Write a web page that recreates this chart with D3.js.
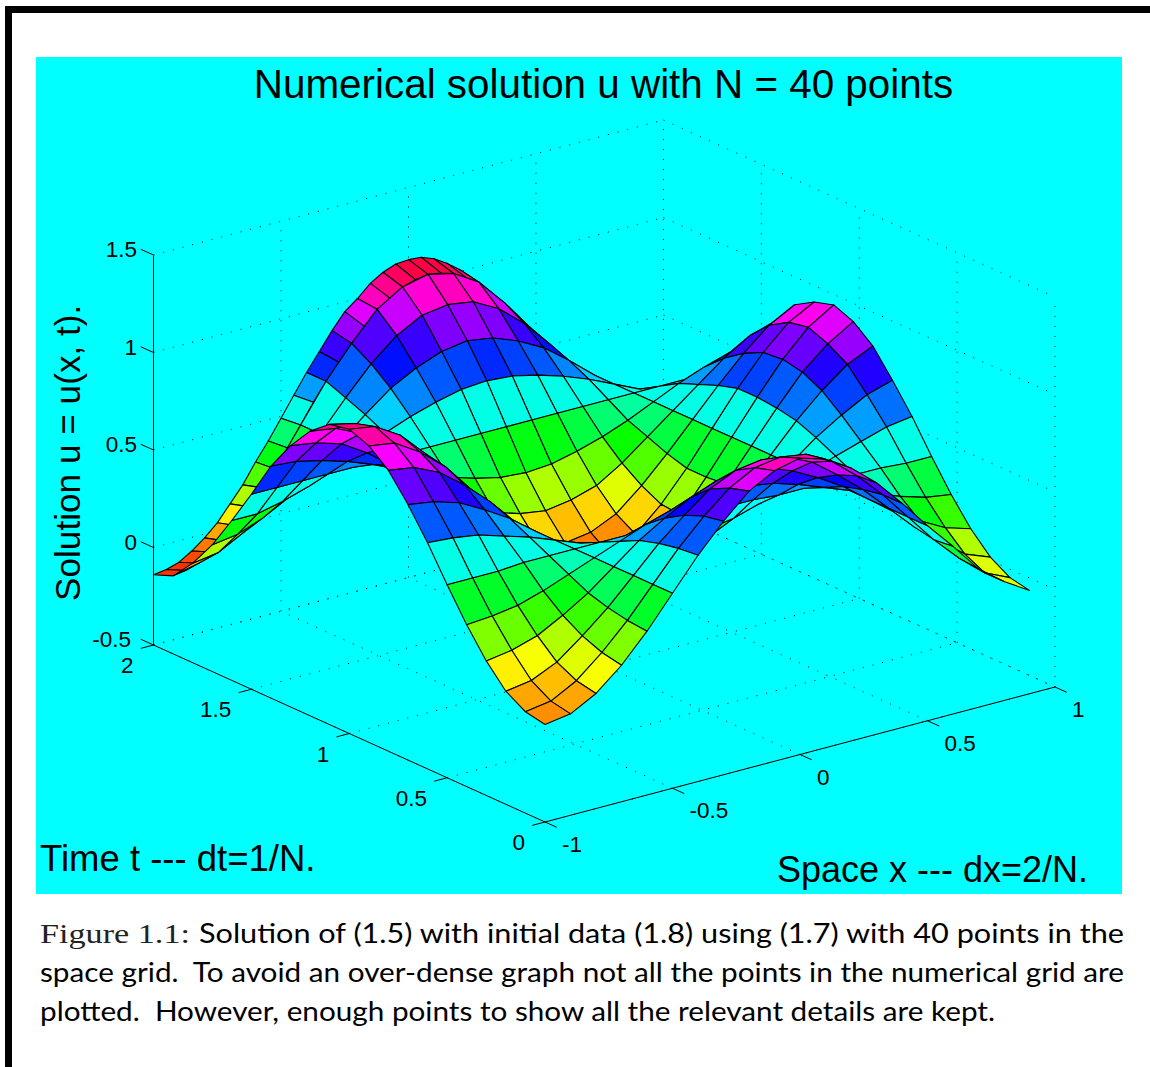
<!DOCTYPE html>
<html>
<head>
<meta charset="utf-8">
<script src="https://cdn.jsdelivr.net/npm/d3@7"></script>
<style>
  html, body { margin: 0; padding: 0; background: #fff; }
  svg { display: block; }
  text { font-family: "Liberation Sans", Arial, sans-serif; fill: #000; white-space: pre; }
</style>
</head>
<body>
<div id="chart"></div>
<script>
// tick labels of the three axes
const xTicks = [-1, -0.5, 0, 0.5, 1];
const tTicks = [0, 0.5, 1, 1.5, 2];
const zTicks = [-0.5, 0, 0.5, 1, 1.5];

// space and time grid that is plotted
const xValues = [-1, -0.9, -0.8, -0.7, -0.6, -0.5, -0.4, -0.3, -0.2, -0.1, 0, 0.1, 0.2, 0.3, 0.4, 0.5, 0.6, 0.7, 0.8, 0.9];
const tValues = [0, 0.1, 0.2, 0.3, 0.4, 0.5, 0.6, 0.7, 0.8, 0.9, 1, 1.1, 1.2, 1.3, 1.4, 1.5, 1.6, 1.7, 1.8, 1.9];

// u, one line per time row (t = 0 ... 1.9)
const uRows = [
  [0.00, 0.02, 0.09, 0.20, 0.34, 0.50, 0.66, 0.80, 0.92, 0.99, 1.02, 0.98, 0.90, 0.79, 0.65, 0.50, 0.36, 0.21, 0.11, 0.03],
  [0.02, 0.04, 0.11, 0.22, 0.35, 0.50, 0.65, 0.78, 0.89, 0.96, 0.98, 0.96, 0.89, 0.78, 0.65, 0.50, 0.35, 0.22, 0.11, 0.05],
  [0.08, 0.10, 0.16, 0.26, 0.37, 0.50, 0.63, 0.74, 0.84, 0.90, 0.92, 0.90, 0.84, 0.74, 0.63, 0.50, 0.37, 0.26, 0.16, 0.11],
  [0.19, 0.21, 0.25, 0.32, 0.40, 0.50, 0.60, 0.68, 0.75, 0.80, 0.81, 0.80, 0.75, 0.68, 0.60, 0.50, 0.40, 0.32, 0.25, 0.21],
  [0.33, 0.34, 0.36, 0.40, 0.45, 0.50, 0.55, 0.60, 0.64, 0.66, 0.67, 0.66, 0.64, 0.60, 0.55, 0.50, 0.45, 0.40, 0.36, 0.34],
  [0.49, 0.49, 0.49, 0.50, 0.50, 0.50, 0.50, 0.50, 0.51, 0.51, 0.51, 0.51, 0.51, 0.50, 0.50, 0.50, 0.50, 0.50, 0.49, 0.49],
  [0.66, 0.65, 0.63, 0.59, 0.55, 0.50, 0.45, 0.41, 0.37, 0.35, 0.34, 0.35, 0.37, 0.41, 0.45, 0.50, 0.55, 0.59, 0.63, 0.65],
  [0.81, 0.79, 0.75, 0.68, 0.60, 0.50, 0.40, 0.32, 0.25, 0.21, 0.19, 0.21, 0.25, 0.32, 0.40, 0.50, 0.60, 0.68, 0.75, 0.79],
  [0.94, 0.92, 0.86, 0.76, 0.64, 0.50, 0.36, 0.24, 0.14, 0.08, 0.06, 0.08, 0.14, 0.24, 0.36, 0.50, 0.64, 0.76, 0.86, 0.92],
  [1.02, 1.00, 0.92, 0.81, 0.66, 0.50, 0.34, 0.19, 0.08, 0.01, -0.02, 0.01, 0.08, 0.19, 0.34, 0.50, 0.66, 0.81, 0.92, 1.00],
  [1.06, 1.04, 0.96, 0.83, 0.67, 0.50, 0.33, 0.17, 0.04, -0.04, -0.06, -0.04, 0.04, 0.17, 0.33, 0.50, 0.67, 0.83, 0.96, 1.04],
  [1.04, 1.01, 0.94, 0.82, 0.67, 0.50, 0.33, 0.18, 0.06, -0.01, -0.04, -0.01, 0.06, 0.18, 0.33, 0.50, 0.67, 0.82, 0.94, 1.01],
  [0.96, 0.94, 0.88, 0.77, 0.64, 0.50, 0.36, 0.23, 0.12, 0.06, 0.04, 0.06, 0.12, 0.23, 0.36, 0.50, 0.64, 0.77, 0.88, 0.95],
  [0.84, 0.82, 0.78, 0.70, 0.60, 0.50, 0.40, 0.30, 0.22, 0.18, 0.16, 0.18, 0.22, 0.30, 0.40, 0.50, 0.60, 0.70, 0.78, 0.82],
  [0.69, 0.68, 0.65, 0.61, 0.56, 0.50, 0.44, 0.39, 0.35, 0.32, 0.31, 0.32, 0.35, 0.39, 0.44, 0.50, 0.56, 0.61, 0.65, 0.68],
  [0.50, 0.50, 0.50, 0.50, 0.50, 0.50, 0.50, 0.50, 0.50, 0.50, 0.50, 0.50, 0.50, 0.50, 0.50, 0.50, 0.50, 0.50, 0.50, 0.50],
  [0.32, 0.32, 0.35, 0.39, 0.44, 0.50, 0.56, 0.61, 0.65, 0.68, 0.69, 0.68, 0.65, 0.61, 0.56, 0.50, 0.44, 0.39, 0.35, 0.32],
  [0.15, 0.17, 0.22, 0.29, 0.39, 0.50, 0.61, 0.71, 0.78, 0.83, 0.85, 0.83, 0.78, 0.71, 0.61, 0.50, 0.39, 0.29, 0.22, 0.17],
  [0.01, 0.03, 0.10, 0.21, 0.35, 0.50, 0.65, 0.79, 0.90, 0.97, 0.99, 0.97, 0.90, 0.79, 0.65, 0.50, 0.35, 0.21, 0.10, 0.03],
  [-0.10, -0.07, 0.01, 0.15, 0.31, 0.50, 0.69, 0.85, 0.99, 1.07, 1.10, 1.07, 0.99, 0.85, 0.69, 0.50, 0.31, 0.15, 0.01, -0.07]
];

// the last time step is drawn on the full space grid (dx = 0.05)
const xFine = [-1, -0.95, -0.9, -0.85, -0.8, -0.75, -0.7, -0.65, -0.6, -0.55, -0.5, -0.45, -0.4, -0.35, -0.3, -0.25, -0.2, -0.15, -0.1, -0.05,
  0, 0.05, 0.1, 0.15, 0.2, 0.25, 0.3, 0.35, 0.4, 0.45, 0.5, 0.55, 0.6, 0.65, 0.7, 0.75, 0.8, 0.85, 0.9, 0.95];
const uFine19 = [-0.10, -0.09, -0.07, -0.03, 0.01, 0.07, 0.15, 0.23, 0.31, 0.40, 0.50, 0.60, 0.69, 0.77, 0.85, 0.92, 0.99, 1.03, 1.07, 1.09,
  1.10, 1.09, 1.07, 1.03, 0.99, 0.92, 0.85, 0.77, 0.69, 0.60, 0.50, 0.40, 0.31, 0.23, 0.15, 0.08, 0.01, -0.03, -0.07, -0.09];
const uFine20 = [-0.14, -0.13, -0.11, -0.07, -0.02, 0.04, 0.12, 0.20, 0.30, 0.39, 0.49, 0.59, 0.69, 0.78, 0.87, 0.95, 1.00, 1.06, 1.10, 1.125,
  1.13, 1.125, 1.10, 1.06, 1.01, 0.95, 0.88, 0.78, 0.70, 0.60, 0.50, 0.40, 0.30, 0.21, 0.12, 0.04, -0.02, -0.07, -0.11, -0.13];

const uMin = -0.141;
const uMax = 1.15;

const width = 1150;
const height = 1067;

const svg = d3.select("#chart")
    .append("svg")
    .attr("width", width)
    .attr("height", height);

// page frame and cyan plot panel
svg.append("rect").attr("x", 5).attr("y", 6).attr("width", 7).attr("height", height - 6).attr("fill", "#000");
svg.append("rect").attr("x", 5).attr("y", 6).attr("width", width - 5).attr("height", 7).attr("fill", "#000");
svg.append("rect").attr("x", 36).attr("y", 57).attr("width", 1086).attr("height", 837).attr("fill", "#00ffff");

// oblique projection: each axis has its own screen scale
const xPx = d3.scaleLinear().domain([-1, 1]).range([0, 510]);
const xPy = d3.scaleLinear().domain([-1, 1]).range([0, -135]);
const tPx = d3.scaleLinear().domain([0, 2]).range([545, 153.5]);
const tPy = d3.scaleLinear().domain([0, 2]).range([822, 645]);
const zPy = d3.scaleLinear().domain([-0.5, 1.5]).range([0, -390]);

function project(x, t, z) {
    return [xPx(x) + tPx(t), xPy(x) + tPy(t) + zPy(z)];
}

// hsv colormap with 64 levels, like the original plot
const color = d3.scaleQuantize()
    .domain([uMin, uMax])
    .range(d3.range(64).map(i => d3.hsl(i / 64 * 360, 1, 0.5).formatHex()));

const line = d3.line();

// dotted grid on floor and back walls
const grid = svg.append("g")
    .attr("fill", "none")
    .attr("stroke", "#000")
    .attr("stroke-width", 1)
    .attr("stroke-dasharray", "1 9");

function gridLine(a, b) {
    grid.append("path").attr("d", line([project(...a), project(...b)]));
}

const zLow = zTicks[0];
const zHigh = zTicks[zTicks.length - 1];
xTicks.forEach(x => {
    gridLine([x, 0, zLow], [x, 2, zLow]);
    gridLine([x, 2, zLow], [x, 2, zHigh]);
});
tTicks.forEach(t => {
    gridLine([-1, t, zLow], [1, t, zLow]);
    gridLine([1, t, zLow], [1, t, zHigh]);
});
zTicks.forEach(z => {
    gridLine([-1, 2, z], [1, 2, z]);
    gridLine([1, 2, z], [1, 0, z]);
});

// solid axes
const axes = svg.append("g").attr("fill", "none").attr("stroke", "#000").attr("stroke-width", 1);
axes.append("path").attr("d", line([project(-1, 2, zHigh), project(-1, 2, zLow), project(-1, 0, zLow), project(1, 0, zLow)]));

zTicks.forEach(z => {
    axes.append("path").attr("d", line([project(-1, 2, z), project(-1, 2.065, z)]));
});
tTicks.forEach(t => {
    axes.append("path").attr("d", line([project(-1, t, zLow), project(-1.05, t, zLow)]));
});
xTicks.forEach(x => {
    axes.append("path").attr("d", line([project(x, 0, zLow), project(x, -0.06, zLow)]));
});

// tick labels
const tickFont = 22.5;
zTicks.forEach(z => {
    const p = project(-1, 2, z);
    svg.append("text")
        .attr("x", z < 0 ? 131 : 137)
        .attr("y", p[1] - 6)
        .attr("dy", "0.36em")
        .attr("text-anchor", "end")
        .attr("font-size", tickFont)
        .text(z);
});
tTicks.forEach(t => {
    const p = project(-1, t, zLow);
    svg.append("text")
        .attr("x", p[0] - 20)
        .attr("y", p[1] + 20)
        .attr("dy", "0.36em")
        .attr("text-anchor", "end")
        .attr("font-size", tickFont)
        .text(t);
});
xTicks.forEach(x => {
    const p = project(x, 0, zLow);
    svg.append("text")
        .attr("x", p[0] + 17)
        .attr("y", p[1] + 22)
        .attr("dy", "0.36em")
        .attr("font-size", tickFont)
        .text(x);
});

// surface, painted from the far corner to the near corner
const surface = svg.append("g")
    .attr("stroke", "#000")
    .attr("stroke-width", 1.1)
    .attr("stroke-linejoin", "round");

function face(corners, value) {
    surface.append("path")
        .attr("d", line(corners) + "Z")
        .attr("fill", color(value));
}

const tLast = 2;
const tPrev = tValues[tValues.length - 1];
for (let i = xFine.length - 2; i >= 0; i--) {
    face([
        project(xFine[i], tPrev, uFine19[i]),
        project(xFine[i + 1], tPrev, uFine19[i + 1]),
        project(xFine[i + 1], tLast, uFine20[i + 1]),
        project(xFine[i], tLast, uFine20[i])
    ], uFine19[i]);
}
for (let k = tValues.length - 2; k >= 0; k--) {
    for (let j = xValues.length - 2; j >= 0; j--) {
        face([
            project(xValues[j], tValues[k], uRows[k][j]),
            project(xValues[j + 1], tValues[k], uRows[k][j + 1]),
            project(xValues[j + 1], tValues[k + 1], uRows[k + 1][j + 1]),
            project(xValues[j], tValues[k + 1], uRows[k + 1][j])
        ], uRows[k][j]);
    }
}

// titles inside the panel
svg.append("text").attr("x", 603.5).attr("y", 98).attr("text-anchor", "middle").attr("font-size", 40.4)
    .text("Numerical solution u with N = 40 points");
svg.append("text").attr("x", 40).attr("y", 871).attr("font-size", 36.5)
    .text("Time t --- dt=1/N.");
svg.append("text").attr("x", 777).attr("y", 882).attr("font-size", 36)
    .text("Space x --- dx=2/N.");
svg.append("text").attr("transform", "translate(80,601) rotate(-90)").attr("font-size", 35.2)
    .text("Solution u = u(x, t).");

// caption under the panel
const sans = "Lato, 'Open Sans', sans-serif";
svg.append("text").attr("x", 40).attr("y", 943).attr("font-size", 27)
    .attr("textLength", 150).attr("lengthAdjust", "spacingAndGlyphs")
    .style("font-family", "'Liberation Serif', serif").style("fill", "#222")
    .text("Figure 1.1:");
const captionLines = [
    { x: 199, y: 943, w: 925, s: "Solution of (1.5) with initial data (1.8) using (1.7) with 40 points in the" },
    { x: 40, y: 982, w: 1084, s: "space grid.  To avoid an over-dense graph not all the points in the numerical grid are" },
    { x: 40, y: 1021, w: 955, s: "plotted.  However, enough points to show all the relevant details are kept." }
];
captionLines.forEach(c => {
    svg.append("text").attr("x", c.x).attr("y", c.y).attr("font-size", 27)
        .attr("textLength", c.w).attr("lengthAdjust", "spacingAndGlyphs")
        .style("font-family", sans)
        .text(c.s);
});
</script>
</body>
</html>
